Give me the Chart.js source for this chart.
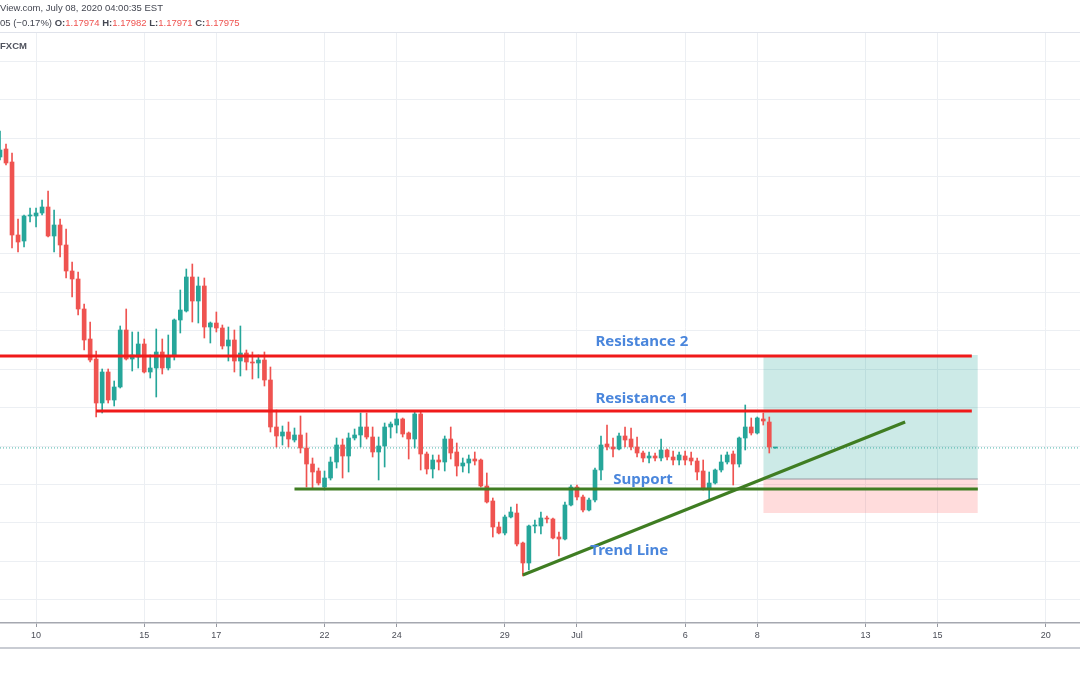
<!DOCTYPE html>
<html>
<head>
<meta charset="utf-8">
<script src="https://cdn.jsdelivr.net/npm/chart.js@4.4.1/dist/chart.umd.min.js"></script>
<style>
  html, body { margin: 0; padding: 0; background: #fff; }
  #wrap { position: relative; width: 1080px; height: 675px; overflow: hidden; }
  #chart { position: absolute; left: 0; top: 0; }
  .hdr { position: absolute; left: 0; font-family: "Liberation Sans", Arial, sans-serif; font-size: 9.5px; color: #434651; white-space: nowrap; }
  .hdr b { font-weight: bold; color: #434651; }
  .hdr .v { color: #ef5350; }
  #sep { position: absolute; left: 0; top: 32px; width: 1080px; height: 1px; background: #e0e3eb; }
  #bottom { position: absolute; left: 0; top: 647px; width: 1080px; height: 2px; background: #c9ccd3; }
</style>
</head>
<body>
<div id="wrap">
  <canvas id="chart" width="1080" height="675"></canvas>
  <div class="hdr" style="top:2px">View.com, July 08, 2020 04:00:35 EST</div>
  <div class="hdr" style="top:17px">05 (&minus;0.17%) <b>O:</b><span class="v">1.17974</span> <b>H:</b><span class="v">1.17982</span> <b>L:</b><span class="v">1.17971</span> <b>C:</b><span class="v">1.17975</span></div>
  <div id="sep"></div>
  <div class="hdr" style="top:40px;font-weight:bold;color:#50535e">FXCM</div>
  <div id="bottom"></div>
</div>
<script>
// 4h candles, one per index, Jun 9 -> Jul 8 2020
var opens = [
  1.21757, 1.21861, 1.21692, 1.20743, 1.20665, 1.2099, 1.2099, 1.21029, 1.21107, 1.2073,
  1.20873, 1.20613, 1.20275, 1.20171, 1.19781, 1.19391, 1.19131, 1.18559, 1.18962, 1.18598,
  1.18767, 1.19508, 1.19131, 1.19157, 1.19326, 1.18962, 1.19014, 1.19222, 1.19014, 1.1917,
  1.19638, 1.19755, 1.20197, 1.19885, 1.2008, 1.19547, 1.19599, 1.19534, 1.193, 1.19378,
  1.19105, 1.19209, 1.19092, 1.19079, 1.19118, 1.18858, 1.18247, 1.1813, 1.18182, 1.18078,
  1.18143, 1.17974, 1.17766, 1.17675, 1.17467, 1.17584, 1.17792, 1.18013, 1.1787, 1.18104,
  1.18143, 1.18247, 1.18117, 1.17922, 1.18, 1.18247, 1.18273, 1.18351, 1.18169, 1.18091,
  1.18416, 1.17896, 1.17701, 1.17818, 1.17792, 1.18091, 1.17922, 1.1774, 1.17779, 1.17831,
  1.17818, 1.1748, 1.17285, 1.16947, 1.16869, 1.17077, 1.17129, 1.16739, 1.16479, 1.1696,
  1.1696, 1.17064, 1.17051, 1.16817, 1.16791, 1.17233, 1.17467, 1.17337, 1.17168, 1.17298,
  1.17688, 1.18026, 1.17987, 1.17961, 1.1813, 1.18091, 1.17987, 1.17909, 1.17844, 1.1787,
  1.17844, 1.17948, 1.17857, 1.17818, 1.1787, 1.17844, 1.17805, 1.17675, 1.17441, 1.17519,
  1.17688, 1.17792, 1.17896, 1.17766, 1.18104, 1.18247, 1.18169, 1.18351, 1.18312, 1.17974
];
var highs = [
  1.22095, 1.21926, 1.21809, 1.20951, 1.21003, 1.21094, 1.21094, 1.21198, 1.21315, 1.21068,
  1.20951, 1.20821, 1.20392, 1.20262, 1.19846, 1.19612, 1.19235, 1.19001, 1.19001, 1.18845,
  1.1956, 1.19781, 1.19482, 1.19482, 1.19391, 1.19183, 1.19521, 1.19391, 1.19443, 1.19651,
  1.20028, 1.20301, 1.20366, 1.20197, 1.20184, 1.19612, 1.19742, 1.19573, 1.19547, 1.19508,
  1.1956, 1.19248, 1.19222, 1.19183, 1.19222, 1.19027, 1.18468, 1.1826, 1.18312, 1.18234,
  1.1839, 1.18169, 1.17844, 1.17714, 1.17675, 1.17857, 1.18104, 1.18091, 1.18169, 1.18221,
  1.18429, 1.18429, 1.18247, 1.18117, 1.18299, 1.18312, 1.18429, 1.18364, 1.18182, 1.18455,
  1.18455, 1.17922, 1.17883, 1.17883, 1.1813, 1.18247, 1.18039, 1.17844, 1.17883, 1.17922,
  1.17831, 1.17649, 1.17324, 1.17012, 1.17103, 1.17207, 1.17246, 1.16752, 1.16973, 1.17038,
  1.17142, 1.1709, 1.17064, 1.16882, 1.17272, 1.17493, 1.17493, 1.17363, 1.17324, 1.17714,
  1.1813, 1.18273, 1.18104, 1.18169, 1.18247, 1.18234, 1.18117, 1.17935, 1.17922, 1.17909,
  1.18091, 1.17961, 1.17935, 1.17922, 1.17935, 1.17922, 1.17844, 1.17818, 1.17662, 1.17701,
  1.17883, 1.17922, 1.17935, 1.18117, 1.18533, 1.18364, 1.18377, 1.18429, 1.18377, 1.17982
];
var lows = [
  1.21718, 1.21653, 1.20574, 1.20522, 1.20587, 1.20912, 1.20847, 1.21003, 1.20717, 1.20522,
  1.20457, 1.20184, 1.19937, 1.19703, 1.19248, 1.19092, 1.18377, 1.18429, 1.18559, 1.1852,
  1.18754, 1.19118, 1.18975, 1.19014, 1.18949, 1.18884, 1.18637, 1.18936, 1.18988, 1.19118,
  1.19469, 1.19742, 1.19612, 1.19599, 1.19404, 1.19339, 1.19482, 1.19261, 1.19105, 1.18962,
  1.1891, 1.18988, 1.18871, 1.18884, 1.1878, 1.18182, 1.17987, 1.18013, 1.17987, 1.18052,
  1.17909, 1.17467, 1.17454, 1.17493, 1.17428, 1.17558, 1.17714, 1.17584, 1.17662, 1.18078,
  1.17987, 1.18091, 1.17857, 1.17558, 1.17727, 1.18104, 1.18169, 1.18117, 1.17831, 1.17974,
  1.17688, 1.17636, 1.17584, 1.17688, 1.17675, 1.17831, 1.1761, 1.17662, 1.17649, 1.17753,
  1.17467, 1.17259, 1.16817, 1.16856, 1.16843, 1.17064, 1.167, 1.1631, 1.16388, 1.16869,
  1.16856, 1.16999, 1.16791, 1.1657, 1.16778, 1.1722, 1.17298, 1.17142, 1.17155, 1.17272,
  1.17558, 1.17948, 1.17857, 1.17948, 1.17987, 1.17948, 1.17857, 1.17792, 1.17779, 1.17805,
  1.17805, 1.17818, 1.17753, 1.17753, 1.17753, 1.17753, 1.17558, 1.17428, 1.17298, 1.17506,
  1.17662, 1.17766, 1.17493, 1.17727, 1.17948, 1.18143, 1.18156, 1.18273, 1.17909, 1.17971
];
var closes = [
  1.21848, 1.21679, 1.20743, 1.20652, 1.2099, 1.21003, 1.21029, 1.21107, 1.2073, 1.20873,
  1.20613, 1.20275, 1.20171, 1.19781, 1.19378, 1.19118, 1.18559, 1.18962, 1.18598, 1.18767,
  1.19508, 1.19131, 1.19183, 1.19326, 1.18962, 1.19014, 1.19222, 1.19014, 1.1917, 1.19638,
  1.19768, 1.20197, 1.19885, 1.2008, 1.19547, 1.19599, 1.19534, 1.193, 1.19378, 1.19105,
  1.19209, 1.19092, 1.19079, 1.19118, 1.18858, 1.18247, 1.1813, 1.18182, 1.18091, 1.18143,
  1.17974, 1.17766, 1.17662, 1.17519, 1.17584, 1.17792, 1.18013, 1.1787, 1.18104, 1.18143,
  1.18247, 1.18117, 1.17922, 1.18, 1.18247, 1.18286, 1.18351, 1.18156, 1.18091, 1.18416,
  1.17896, 1.17701, 1.17818, 1.17792, 1.18091, 1.17909, 1.1774, 1.17779, 1.17831, 1.17805,
  1.1748, 1.17272, 1.16947, 1.16869, 1.17077, 1.17142, 1.16726, 1.16479, 1.1696, 1.16973,
  1.17064, 1.17051, 1.16804, 1.16791, 1.17233, 1.17467, 1.17337, 1.17168, 1.17298, 1.17688,
  1.18013, 1.17987, 1.17961, 1.1813, 1.18078, 1.17987, 1.17909, 1.17844, 1.1787, 1.17844,
  1.17948, 1.17857, 1.17818, 1.17883, 1.17818, 1.17805, 1.17662, 1.17441, 1.17519, 1.17688,
  1.17792, 1.17883, 1.17766, 1.18104, 1.18247, 1.18169, 1.18364, 1.18325, 1.17987, 1.17975
];

// date ticks (candle index of the first bar of that day)
var tickPositions = [6, 24, 36, 54, 66, 84, 96, 114, 126, 144, 156, 174];
var tickLabels = ['10', '15', '17', '22', '24', '29', 'Jul', '6', '8', '13', '15', '20'];

// drawn levels
var resistance2 = 1.1917;
var resistance1 = 1.18455;
var support = 1.17441;
var trendX = [87, 150.6];
var trendY = [1.16323, 1.18312];
var lastPrice = 1.17975;

// long position tool
var posStartEnd = [127, 162.7];
var posTarget = 1.19183;
var posEntry = 1.17571;
var posStop = 1.17129;

var up = '#26a69a', down = '#ef5350';
var red = '#f01a1a', green = '#3f7d22';
var candleColors = opens.map(function (o, i) { return closes[i] >= o ? up : down; });

var bodies = opens.map(function (o, i) { return { x: i, y: [o, closes[i]] }; });
var wicks = lows.map(function (l, i) { return { x: i, y: [l, highs[i]] }; });

function flat(x0, x1, y) { return [{ x: x0, y: y }, { x: x1, y: y }]; }

var drawingLabels = [
  { text: 'Resistance 2', x: 106.8, y: 1.19352 },
  { text: 'Resistance 1', x: 106.8, y: 1.18611 },
  { text: 'Support', x: 107.0, y: 1.17558 },
  { text: 'Trend Line', x: 104.7, y: 1.16635 }
];

var labelPlugin = {
  id: 'drawingLabels',
  afterDatasetsDraw: function (chart) {
    var ctx = chart.ctx, xs = chart.scales.x, ys = chart.scales.y;
    ctx.save();
    ctx.font = 'bold 15px "Noto Sans"';
    ctx.fillStyle = '#4a86dc';
    ctx.textAlign = 'center';
    ctx.textBaseline = 'middle';
    drawingLabels.forEach(function (d) {
      ctx.fillText(d.text, xs.getPixelForValue(d.x), ys.getPixelForValue(d.y));
    });
    ctx.restore();
  }
};

var lineBase = { type: 'line', pointRadius: 0, tension: 0, fill: false };

var ctx = document.getElementById('chart').getContext('2d');
var myChart = new Chart(ctx, {
  type: 'bar',
  data: {
    datasets: [
      Object.assign({}, lineBase, { data: flat(posStartEnd[0], posStartEnd[1], posTarget), borderWidth: 0, fill: { value: posEntry }, backgroundColor: 'rgba(0,150,136,0.2)', order: 9 }),
      Object.assign({}, lineBase, { data: flat(posStartEnd[0], posStartEnd[1], posStop), borderWidth: 0, fill: { value: posEntry }, backgroundColor: 'rgba(255,82,82,0.2)', order: 9 }),
      Object.assign({}, lineBase, { data: flat(posStartEnd[0], posStartEnd[1], posEntry), borderWidth: 1, borderColor: '#9598a1', order: 8 }),
      Object.assign({}, lineBase, { data: flat(0, 179.7, lastPrice), borderWidth: 1, borderColor: 'rgba(38,166,154,0.85)', borderDash: [1, 2], order: 7 }),
      { data: wicks, backgroundColor: candleColors, barThickness: 1, grouped: false, borderWidth: 0, order: 4 },
      { data: bodies, backgroundColor: candleColors, barThickness: 4, grouped: false, borderWidth: 0, minBarLength: 1, order: 3 },
      Object.assign({}, lineBase, { data: flat(-2, 161.7, resistance2), borderWidth: 3, borderColor: red, order: 1 }),
      Object.assign({}, lineBase, { data: flat(16, 161.7, resistance1), borderWidth: 3, borderColor: red, order: 1 }),
      Object.assign({}, lineBase, { data: flat(49, 162.7, support), borderWidth: 3, borderColor: green, order: 1 }),
      Object.assign({}, lineBase, { data: [{ x: trendX[0], y: trendY[0] }, { x: trendX[1], y: trendY[1] }], borderWidth: 3, borderColor: green, order: 1 })
    ]
  },
  options: {
    responsive: false,
    animation: false,
    devicePixelRatio: 1,
    layout: { padding: { top: 33, left: 0, right: 0, bottom: 0 } },
    plugins: { legend: { display: false }, tooltip: { enabled: false } },
    scales: {
      x: {
        type: 'linear',
        min: 0,
        max: 179.7,
        offset: false,
        afterBuildTicks: function (s) { s.ticks = tickPositions.map(function (v) { return { value: v }; }); },
        afterFit: function (s) { s.height = 52; },
        ticks: {
          autoSkip: false,
          maxRotation: 0,
          padding: 3,
          color: '#4a4d57',
          font: { family: '"Liberation Sans Narrow", "Liberation Sans", sans-serif', size: 9 },
          callback: function (v) { var k = tickPositions.indexOf(v); return k < 0 ? '' : tickLabels[k]; }
        },
        grid: { color: '#eceff3', tickColor: '#9598a1', tickLength: 4, offset: false },
        border: { color: '#a5a8b0', width: 1.5 }
      },
      y: {
        position: 'right',
        min: 1.15699,
        max: 1.23369,
        afterBuildTicks: function (s) {
          var t = [];
          for (var k = 0; k <= 14; k++) t.push({ value: +(1.16 + k * 0.005).toFixed(3) });
          s.ticks = t;
        },
        afterFit: function (s) { s.width = 0; },
        ticks: { display: false },
        grid: { color: '#eceff3', drawTicks: false },
        border: { display: false }
      }
    }
  },
  plugins: [labelPlugin]
});
</script>
</body>
</html>
